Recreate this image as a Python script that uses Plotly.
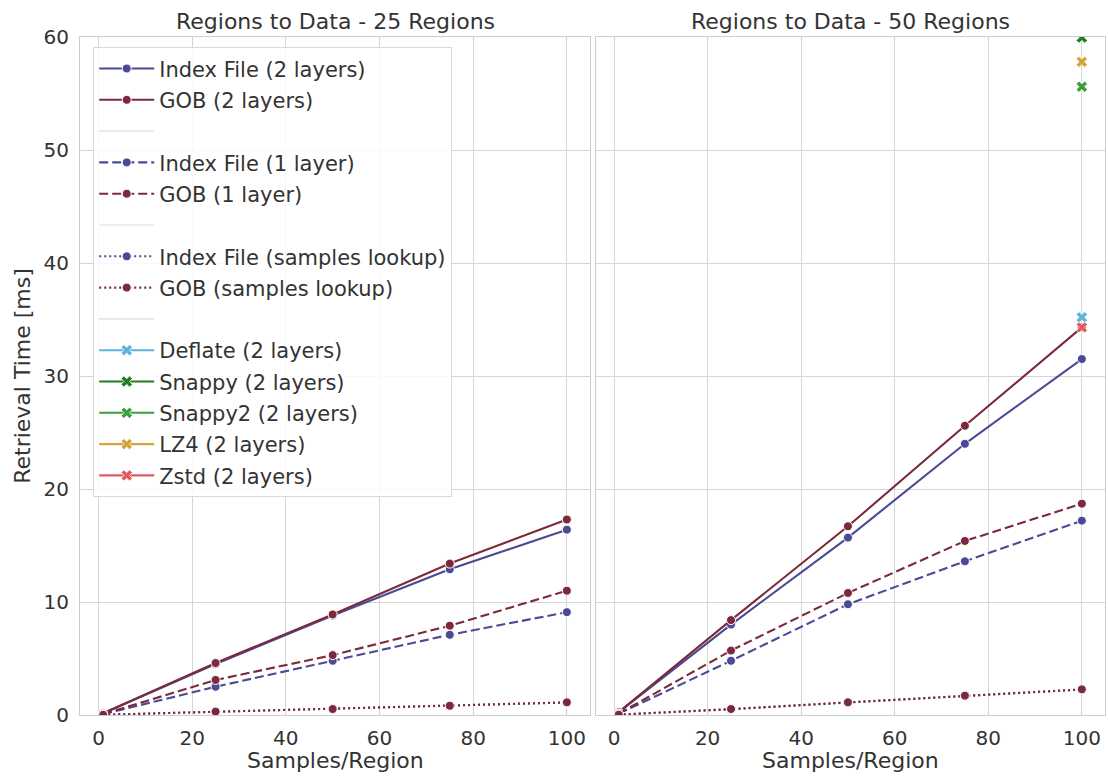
import plotly.graph_objects as go

# ---------------- data ----------------
samples = [1, 25, 50, 75, 100]

# 25 regions
idx2_25 = [0.15, 4.5, 8.8, 12.9, 16.4]
gob2_25 = [0.15, 4.6, 8.9, 13.4, 17.3]
idx1_25 = [0.08, 2.5, 4.8, 7.1, 9.1]
gob1_25 = [0.08, 3.1, 5.3, 7.9, 11.0]
idxs_25 = [0.02, 0.28, 0.5, 0.8, 1.1]
gobs_25 = [0.02, 0.3, 0.53, 0.82, 1.12]

# 50 regions
idx2_50 = [0.25, 8.0, 15.7, 24.0, 31.5]
gob2_50 = [0.25, 8.4, 16.7, 25.6, 34.3]
idx1_50 = [0.12, 4.8, 9.8, 13.6, 17.2]
gob1_50 = [0.12, 5.7, 10.8, 15.4, 18.7]
idxs_50 = [0.03, 0.5, 1.1, 1.7, 2.25]
gobs_50 = [0.03, 0.53, 1.12, 1.71, 2.27]

# compression variants (50 regions, 100 samples/region)
comp_names = ["Deflate (2 layers)", "Snappy (2 layers)", "Snappy2 (2 layers)",
              "LZ4 (2 layers)", "Zstd (2 layers)"]
comp_x = [100]
comp_vals = [35.2, 59.95, 55.6, 57.8, 34.3]

titles = ["Regions to Data - 25 Regions", "Regions to Data - 50 Regions"]
xtitle = "Samples/Region"
ytitle = "Retrieval Time [ms]"
xticks = [0, 20, 40, 60, 80, 100]
yticks = [0, 10, 20, 30, 40, 50, 60]

# ---------------- style ----------------
C_IDX = "#4b4a96"
C_GOB = "#7b2a3e"
comp_colors = ["#5ab4dc", "#217d21", "#3a9f3a", "#d6a436", "#e05b5f"]
SEP = "#dcdcdc"
FONT = "DejaVu Sans"
TXT = "#333333"
GRID = "#d6d6d6"
FRAME = "#cdcdcd"

fig = go.Figure()

series = [
    ("Index File (2 layers)", C_IDX, "solid", idx2_25, idx2_50),
    ("GOB (2 layers)", C_GOB, "solid", gob2_25, gob2_50),
    None,
    ("Index File (1 layer)", C_IDX, "9px,4px", idx1_25, idx1_50),
    ("GOB (1 layer)", C_GOB, "9px,4px", gob1_25, gob1_50),
    None,
    ("Index File (samples lookup)", C_IDX, "2px,3px", idxs_25, idxs_50),
    ("GOB (samples lookup)", C_GOB, "2px,3px", gobs_25, gobs_50),
    None,
]

g = 0
for s in series:
    g += 1
    if s is None:
        fig.add_trace(go.Scatter(x=[None], y=[None], mode="lines", name=" ",
                                 line=dict(color=SEP, width=1.2),
                                 legendgroup=f"g{g}", showlegend=True,
                                 hoverinfo="skip", xaxis="x", yaxis="y"))
        continue
    name, col, dash, v25, v50 = s
    for ax, ay, vals, show in (("x", "y", v25, True), ("x2", "y2", v50, False)):
        fig.add_trace(go.Scatter(
            x=samples, y=vals, mode="lines+markers", name=name,
            line=dict(color=col, width=2.1, dash=dash),
            marker=dict(symbol="circle", size=9, color=col,
                        line=dict(color="white", width=1)),
            legendgroup=f"g{g}", showlegend=show, xaxis=ax, yaxis=ay))

for name, col, v in zip(comp_names, comp_colors, comp_vals):
    g += 1
    fig.add_trace(go.Scatter(
        x=comp_x, y=[v], mode="lines+markers", name=name,
        line=dict(color=col, width=2.1),
        marker=dict(symbol="x", size=10, color=col,
                    line=dict(color="white", width=0.8)),
        legendgroup=f"g{g}", showlegend=True, xaxis="x2", yaxis="y2"))

axis_common = dict(
    range=[-3.95, 104.95], tickvals=xticks, showgrid=True, gridcolor=GRID,
    gridwidth=1.2, zeroline=False, showline=True, linecolor=FRAME,
    linewidth=1.2, mirror=True, ticks="outside", ticklen=5, tickcolor="rgba(0,0,0,0)",
    tickfont=dict(size=20, color=TXT, family=FONT),
)

yaxis_common = dict(range=[0, 60], tickvals=yticks, showgrid=True, gridcolor=GRID,
                    gridwidth=1.2, zeroline=False, showline=True, linecolor=FRAME,
                    linewidth=1.2, mirror=True, ticks="outside", ticklen=6,
                    tickcolor="rgba(0,0,0,0)",
                    tickfont=dict(size=20, color=TXT, family=FONT))

fig.update_layout(
    width=1108, height=781,
    margin=dict(l=80, r=3, t=37, b=66),
    paper_bgcolor="white", plot_bgcolor="white",
    font=dict(family=FONT, color=TXT),
    xaxis=dict(domain=[0, 0.4976], anchor="y", **axis_common),
    xaxis2=dict(domain=[0.503, 1.0], anchor="y2", **axis_common),
    yaxis=dict(anchor="x",
               title=dict(text=ytitle, font=dict(size=22, color=TXT, family=FONT),
                          standoff=6),
               **yaxis_common),
    yaxis2=dict(anchor="x2", matches="y", showticklabels=False, **yaxis_common),
    legend=dict(x=0.0127, y=0.985, xanchor="left", yanchor="top",
                bgcolor="rgba(255,255,255,0.85)", bordercolor="#d9d9d9",
                borderwidth=1.2, font=dict(size=21, color=TXT, family=FONT),
                traceorder="grouped", tracegroupgap=1, itemwidth=55),
    showlegend=True,
)

for i, t in enumerate(titles):
    xr = "x domain" if i == 0 else "x2 domain"
    fig.add_annotation(text=t, xref=xr, yref="paper",
                       x=0.5, y=1, xanchor="center", yanchor="bottom", yshift=1,
                       showarrow=False, font=dict(size=22, color=TXT, family=FONT))
    fig.add_annotation(text=xtitle, xref=xr, yref="paper",
                       x=0.5, y=0, xanchor="center", yanchor="middle", yshift=-45,
                       showarrow=False, font=dict(size=22, color=TXT, family=FONT))

fig.write_html("out.html")
